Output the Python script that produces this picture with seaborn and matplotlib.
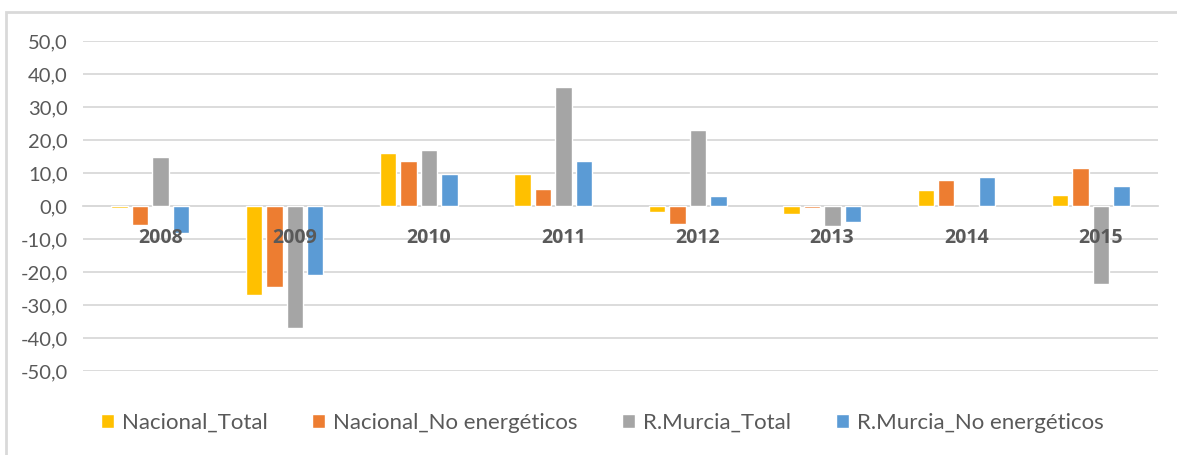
import numpy as np
import pandas as pd
import matplotlib
matplotlib.use("Agg")
import matplotlib.pyplot as plt
import matplotlib.transforms as mtransforms
from matplotlib.patches import Rectangle
import seaborn as sns

# --- data ---
years = ["2008", "2009", "2010", "2011", "2012", "2013", "2014", "2015"]
series = ["Nacional_Total", "Nacional_No energéticos", "R.Murcia_Total", "R.Murcia_No energéticos"]
nacional_total = [-0.5, -27.1, 16.1, 9.6, -1.9, -2.4, 4.9, 3.4]
nacional_no_energeticos = [-5.8, -24.4, 13.5, 5.2, -5.5, -0.6, 7.9, 11.4]
murcia_total = [15.0, -37.1, 16.9, 36.2, 23.0, -6.2, np.nan, -23.7]
murcia_no_energeticos = [-8.1, -21.0, 9.6, 13.5, 3.0, -4.7, 8.9, 6.0]
yticks = [-50, -40, -30, -20, -10, 0, 10, 20, 30, 40, 50]
colors = ["#FFC000", "#ED7D31", "#A5A5A5", "#5B9BD5"]

df = pd.DataFrame({
    "year": years * 4,
    "serie": [s for s in series for _ in years],
    "valor": nacional_total + nacional_no_energeticos + murcia_total + murcia_no_energeticos,
})

sns.set_style("white")
plt.rcParams["font.family"] = ["Lato", "DejaVu Sans"]

fig = plt.figure(figsize=(11.77, 4.55), dpi=100)
ax = fig.add_axes([83 / 1177, 1 - 371 / 455, (1158 - 83) / 1177, (371 - 41) / 455])

sns.barplot(data=df, x="year", y="valor", hue="serie", order=years, hue_order=series,
            palette=colors, width=0.61, gap=0.2, saturation=1, ax=ax, legend=True, zorder=3)

ax.set_ylim(-50, 50)
ax.set_xlim(-0.5, 7.5)
ax.set_yticks(yticks)
ax.set_yticklabels([f"{v:.1f}".replace(".", ",") for v in yticks], color="#595959", fontsize=14.5)
ax.yaxis.grid(True, color="#D9D9D9", linewidth=1.3)
for s in ["left", "right", "top"]:
    ax.spines[s].set_visible(False)
ax.spines["bottom"].set_position(("data", 0))
ax.spines["bottom"].set_color("#D9D9D9")
ax.spines["bottom"].set_linewidth(1.3)
ax.spines["bottom"].set_zorder(1)
# grid behind the bars, year labels on top of them
ax.yaxis.set_zorder(0.5)
ax.xaxis.set_zorder(5)
ax.tick_params(axis="y", length=0, pad=11)
ax.tick_params(axis="x", length=0, pad=16)
ax.set_xticks(range(len(years)))
ax.set_xticklabels(years, fontsize=14, fontweight="bold", color="#595959", family="Open Sans")
offset = mtransforms.ScaledTranslation(10 / 100, 0, fig.dpi_scale_trans)
for lab in ax.get_xticklabels():
    lab.set_transform(lab.get_transform() + offset)
ax.set_xlabel("")
ax.set_ylabel("")

handles, labels = ax.get_legend_handles_labels()
ax.legend_.remove()
fig.legend(handles, labels, ncol=4, loc="center", bbox_to_anchor=(602 / 1177, 1 - 423 / 455),
           frameon=False, fontsize=16, labelcolor="#595959", handlelength=0.6, handleheight=0.6,
           handletextpad=0.35, columnspacing=2.0)

# chart area border like the spreadsheet frame
fig.patches.append(Rectangle((6 / 1177, -0.05), 1.1, 1 - 12 / 455 + 0.05, transform=fig.transFigure,
                             fill=False, edgecolor="#D9D9D9", linewidth=2))

fig.savefig("out.png", dpi=100)
